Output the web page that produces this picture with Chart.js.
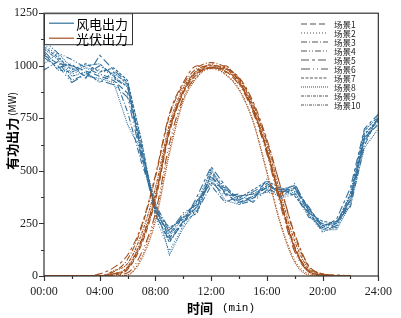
<!DOCTYPE html>
<html>
<head>
<meta charset="utf-8">
<script src="https://cdn.jsdelivr.net/npm/chart.js@4"></script>
<style>
  html, body { margin: 0; padding: 0; background: #fff; }
  #wrap { width: 401px; height: 318px; }
</style>
</head>
<body>
<div id="wrap"><canvas id="chartScenes"></canvas></div>
<script>
// hour of day
const hours = [0,1,2,3,4,5,6,7,8,9,10,11,12,13,14,15,16,17,18,19,20,21,22,23,24]
const sceneNames = ['场景1','场景2','场景3','场景4','场景5','场景6','场景7','场景8','场景9','场景10']

// wind power output (MW), one array per scenario
const wind1  = [1050,1010,1000,975,950,930,870,600,320,180,260,330,480,390,350,380,420,380,420,300,220,250,360,650,750]
const wind2  = [1100,1050,960,990,980,960,920,650,280,120,240,360,500,420,370,370,400,420,400,290,210,230,400,680,730]
const wind3  = [980,1020,930,960,1000,960,780,540,340,220,280,310,430,350,380,390,430,410,430,320,240,260,330,620,760]
const wind4  = [1120,1060,1030,990,960,940,900,620,310,200,290,350,470,400,340,360,460,370,390,280,250,230,370,660,720]
const wind5  = [1040,990,1010,940,1050,980,920,580,290,170,250,380,520,430,360,400,440,400,410,330,230,270,420,700,770]
const wind6  = [1070,1000,920,960,930,910,850,560,330,210,300,340,450,380,390,350,410,390,440,310,210,240,350,640,740]
const wind7  = [1090,1040,980,1010,970,990,930,640,300,160,260,300,490,410,370,410,450,420,380,300,260,250,380,670,750]
const wind8  = [1010,1060,990,950,940,920,720,590,350,100,230,320,460,360,340,380,400,380,400,290,220,220,340,610,700]
const wind9  = [1060,980,970,1000,1010,950,900,610,310,230,270,360,440,420,350,370,430,400,420,320,240,250,390,690,760]
const wind10 = [1080,1030,950,970,920,970,910,570,320,190,280,330,510,390,380,390,420,410,430,310,230,260,360,650,750]

// photovoltaic output (MW), one array per scenario
const pv1  = [0,0,0,0,0,5,30,150,360,680,870,960,990,975,920,790,600,360,140,25,5,0,0]
const pv2  = [0,0,0,0,0,0,5,90,280,600,840,950,985,960,890,740,500,250,75,10,0,0,0]
const pv3  = [0,0,0,0,0,20,80,230,470,760,910,990,1015,995,940,820,640,420,190,45,10,0,0]
const pv4  = [0,0,0,0,0,10,40,170,380,700,880,965,990,1000,925,800,600,350,130,20,5,0,0]
const pv5  = [0,0,0,0,10,40,100,240,480,770,920,1000,990,985,945,830,650,420,200,50,10,5,0]
const pv6  = [0,0,0,0,0,5,15,110,300,630,850,955,1010,975,910,780,580,330,115,20,0,0,0]
const pv7  = [0,0,0,0,0,10,35,160,370,690,880,980,1000,990,930,790,600,355,135,25,5,0,0]
const pv8  = [0,0,0,0,0,0,5,80,260,580,830,945,995,960,885,735,490,240,65,5,0,0,0]
const pv9  = [0,0,0,0,0,25,60,200,420,720,895,975,1005,970,935,810,625,385,165,35,10,0,0]
const pv10 = [0,0,0,0,0,10,45,175,390,695,875,970,990,985,915,795,590,345,130,25,5,0,0]

const windSets = [wind1, wind2, wind3, wind4, wind5, wind6, wind7, wind8, wind9, wind10]
const pvSets = [pv1, pv2, pv3, pv4, pv5, pv6, pv7, pv8, pv9, pv10]

const windColor = '#33719c'
const pvColor = '#a34f1d'

// one dash style per scenario
const dashes = [
  [6, 3], [1, 2], [6, 2, 1, 2], [6, 2, 1, 2, 1, 2], [8, 3, 3, 3],
  [9, 3, 1, 3, 1, 3], [3, 1.5], [1, 1], [3, 1, 1, 1], [3, 1, 1, 1, 1, 1]
]

const toPoints = arr => arr.map((v, i) => ({ x: hours[i], y: v }))

const datasets = []
pvSets.forEach((arr, i) => {
  datasets.push({
    label: '光伏 ' + sceneNames[i],
    data: toPoints(arr),
    borderColor: pvColor,
    borderWidth: 1.1,
    borderDash: dashes[i],
    pointRadius: 0,
    cubicInterpolationMode: 'monotone',
    fill: false,
  })
})
windSets.forEach((arr, i) => {
  datasets.push({
    label: '风电 ' + sceneNames[i],
    data: toPoints(arr),
    borderColor: windColor,
    borderWidth: 1.1,
    borderDash: dashes[i],
    pointRadius: 0,
    tension: 0,
    fill: false,
  })
})

// frame, minor ticks, legends and axis titles
const decor = {
  id: 'decor',
  afterDraw(chart) {
    const { ctx, chartArea: { left, right, top, bottom }, scales: { x, y } } = chart
    ctx.save()
    ctx.strokeStyle = '#333'
    ctx.lineWidth = 1.2
    ctx.setLineDash([])
    ctx.strokeRect(left, top, right - left, bottom - top)

    ctx.beginPath()
    for (let h = 0; h <= 24; h += 2) {
      const px = Math.round(x.getPixelForValue(h)) + 0.5
      const len = h % 4 === 0 ? 5 : 3
      ctx.moveTo(px, bottom); ctx.lineTo(px, bottom + len)
    }
    for (let v = 0; v <= 1250; v += 125) {
      const py = Math.round(y.getPixelForValue(v)) + 0.5
      const len = v % 250 === 0 ? 5 : 3
      ctx.moveTo(left - len, py); ctx.lineTo(left, py)
    }
    ctx.stroke()

    // group legend, top left
    ctx.fillStyle = '#fff'
    ctx.fillRect(left, top, 88, 31)
    ctx.strokeStyle = '#333'
    ctx.lineWidth = 1
    ctx.strokeRect(left + 0.5, top + 0.5, 88, 31)
    const groups = [['风电出力', windColor, top + 10], ['光伏出力', pvColor, top + 25]]
    ctx.font = '13px "Noto Sans CJK SC"'
    ctx.textBaseline = 'middle'
    groups.forEach(([name, col, yy]) => {
      ctx.strokeStyle = col
      ctx.lineWidth = 1.2
      ctx.beginPath(); ctx.moveTo(left + 5, yy); ctx.lineTo(left + 30, yy); ctx.stroke()
      ctx.fillStyle = '#000'
      ctx.fillText(name, left + 32, yy + 0.5)
    })

    // scenario legend, top right
    ctx.font = '8.5px "Noto Sans CJK SC"'
    sceneNames.forEach((name, i) => {
      const yy = 24 + i * 9
      ctx.strokeStyle = '#555'
      ctx.lineWidth = 1.1
      ctx.setLineDash(dashes[i])
      ctx.beginPath(); ctx.moveTo(301, yy); ctx.lineTo(328, yy); ctx.stroke()
      ctx.setLineDash([])
      ctx.fillStyle = '#222'
      ctx.fillText(name, 334, yy + 0.5)
    })

    // y axis title
    ctx.save()
    ctx.translate(12, 131)
    ctx.rotate(-Math.PI / 2)
    ctx.textBaseline = 'middle'
    ctx.font = 'bold 13px "Noto Sans CJK SC"'
    const w1 = ctx.measureText('有功出力').width
    ctx.font = '10px "Noto Sans CJK SC"'
    const w2 = ctx.measureText('(MW)').width
    const sx = -(w1 + w2 + 2) / 2
    ctx.fillStyle = '#000'
    ctx.font = 'bold 13px "Noto Sans CJK SC"'
    ctx.fillText('有功出力', sx, 0)
    ctx.font = '10px "Noto Sans CJK SC"'
    ctx.fillText('(MW)', sx + w1 + 2, 0)
    ctx.restore()

    // x axis title
    ctx.textBaseline = 'middle'
    ctx.font = 'bold 13px "Noto Sans CJK SC"'
    ctx.fillStyle = '#000'
    ctx.fillText('时间', 187, 308)
    const wt = ctx.measureText('时间').width
    ctx.font = '11px "Liberation Mono"'
    ctx.fillText('(min)', 187 + wt + 9, 308)
    ctx.restore()
  }
}

Chart.defaults.font.family = "'Liberation Serif', serif"

const config = {
  type: 'line',
  data: { datasets },
  options: {
    responsive: true,
    maintainAspectRatio: false,
    animation: false,
    layout: { padding: { top: 6, right: 22, left: 0, bottom: 0 } },
    plugins: { legend: { display: false }, tooltip: { enabled: false } },
    scales: {
      x: {
        type: 'linear',
        min: 0,
        max: 24,
        grid: { display: false, drawTicks: false },
        border: { display: false },
        afterFit: s => { s.height = 42 },
        ticks: {
          stepSize: 4,
          padding: 9,
          maxRotation: 0,
          color: '#222',
          font: { family: "'Liberation Serif', serif", size: 12 },
          callback: v => String(v).padStart(2, '0') + ':00',
        },
      },
      y: {
        min: 0,
        max: 1250,
        grid: { display: false, drawTicks: false },
        border: { display: false },
        afterFit: s => { s.width = 44 },
        ticks: {
          stepSize: 250,
          padding: 6,
          color: '#222',
          font: { family: "'Liberation Serif', serif", size: 12 },
          callback: v => String(v),
        },
      },
    },
  },
  plugins: [decor],
}

const ctxScenes = document.getElementById('chartScenes')
window.sceneChart = new Chart(ctxScenes, config)
</script>
</body>
</html>
